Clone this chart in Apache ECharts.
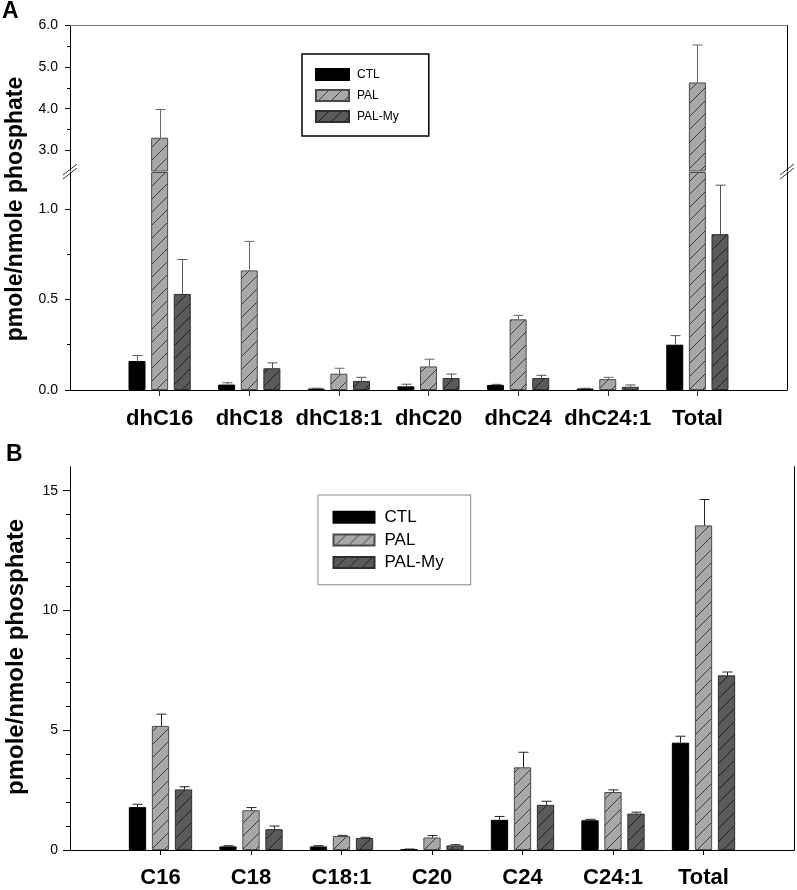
<!DOCTYPE html>
<html>
<head>
<meta charset="utf-8">
<script src="https://cdn.jsdelivr.net/npm/echarts@6/dist/echarts.min.js"></script>
<style>
html,body{margin:0;padding:0;background:#fff;}
#chart{width:797px;height:890px;}
</style>
</head>
<body>
<div id="chart"></div>
<script>
// ---------- DATA ----------
const catsA = ['dhC16', 'dhC18', 'dhC18:1', 'dhC20', 'dhC24', 'dhC24:1', 'Total'];
const ctlA = [0.16, 0.03, 0.008, 0.02, 0.028, 0.008, 0.25];
const ctlAErr = [0.03, 0.01, 0.002, 0.012, 0.003, 0.002, 0.05];
const palA = [3.3, 0.66, 0.09, 0.13, 0.39, 0.06, 4.63];
const palAErr = [0.68, 0.16, 0.03, 0.04, 0.022, 0.01, 0.9];
const palMyA = [0.53, 0.12, 0.05, 0.066, 0.066, 0.018, 0.86];
const palMyAErr = [0.19, 0.03, 0.02, 0.022, 0.015, 0.01, 0.27];

const catsB = ['C16', 'C18', 'C18:1', 'C20', 'C24', 'C24:1', 'Total'];
const ctlB = [1.79, 0.15, 0.15, 0.03, 1.26, 1.24, 4.48];
const ctlBErr = [0.12, 0.03, 0.03, 0.01, 0.14, 0.04, 0.27];
const palB = [5.18, 1.66, 0.58, 0.52, 3.45, 2.42, 13.55];
const palBErr = [0.49, 0.11, 0.03, 0.08, 0.63, 0.09, 1.08];
const palMyB = [2.53, 0.87, 0.5, 0.19, 1.885, 1.52, 7.29];
const palMyBErr = [0.11, 0.13, 0.03, 0.03, 0.15, 0.06, 0.14];

const seriesNames = ['CTL', 'PAL', 'PAL-My'];

const ticksAUpper = [3, 4, 5, 6];
const minorAUpper = [3.5, 4.5, 5.5];
const ticksALower = [0, 0.5, 1.0];
const minorALower = [0.25, 0.75];
const ticksB = [0, 5, 10, 15];
const minorB = [1, 2, 3, 4, 6, 7, 8, 9, 11, 12, 13, 14];

const yTitle = 'pmole/nmole phosphate';

// ---------- STYLE ----------
const FONT = 'Liberation Sans, Arial, Helvetica, sans-serif';
function hatch(bg, line, size) {
  const c = document.createElement('canvas');
  c.width = size; c.height = size;
  const ctx = c.getContext('2d');
  ctx.fillStyle = bg; ctx.fillRect(0, 0, size, size);
  ctx.strokeStyle = line; ctx.lineWidth = 1;
  ctx.beginPath();
  ctx.moveTo(-1, size + 1); ctx.lineTo(size + 1, -1);
  ctx.moveTo(-2, 2); ctx.lineTo(2, -2);
  ctx.moveTo(size - 2, size + 2); ctx.lineTo(size + 2, size - 2);
  ctx.stroke();
  return { image: c, repeat: 'repeat' };
}
const styles = [
  { color: '#000000', borderColor: '#000000', borderWidth: 1 },
  { color: hatch('#a8a8a8', '#3a3a3a', 13), borderColor: '#4a4a4a', borderWidth: 1 },
  { color: hatch('#5a5a5a', '#1e1e1e', 13), borderColor: '#2e2e2e', borderWidth: 1 }
];

const BW_A = 17, BW_B = 17.3, GAP = 0.33;
const pad = arr => ['-'].concat(arr).concat(['-']);
const padCats = arr => [''].concat(arr).concat(['']);

function bars(vals, k, xi, yi, bw) {
  return {
    type: 'bar', name: seriesNames[k], xAxisIndex: xi, yAxisIndex: yi,
    data: pad(vals), barWidth: bw, barGap: (GAP * 100) + '%',
    itemStyle: styles[k], clip: true, animation: false, z: 2
  };
}
function errs(vals, err, k, xi, yi, bw, color, capHalf) {
  const step = bw * (1 + GAP);
  const off = (k - 1) * step;
  return {
    type: 'custom', xAxisIndex: xi, yAxisIndex: yi, clip: true, animation: false, z: 3,
    data: vals.map((v, i) => [i + 1, v, err[i]]),
    renderItem: function (params, api) {
      const x = api.value(0), v = api.value(1), e = api.value(2);
      const p0 = api.coord([x, v]);
      const p1 = api.coord([x, v + e]);
      const cx = Math.round(p0[0] + off) + 0.5;
      const st = { stroke: color, lineWidth: 1 };
      return {
        type: 'group', children: [
          { type: 'line', shape: { x1: cx, y1: p0[1], x2: cx, y2: p1[1] }, style: st },
          { type: 'line', shape: { x1: cx - capHalf, y1: p1[1], x2: cx + capHalf, y2: p1[1] }, style: st }
        ]
      };
    }
  };
}

function mainY(grid, min, max, ticks, fmt, tickLen, position) {
  return {
    type: 'value', gridIndex: grid, min: min, max: max, position: position || 'left',
    axisLine: { show: true, lineStyle: { color: '#000', width: 1 } },
    axisTick: { show: true, customValues: ticks, length: tickLen, lineStyle: { color: '#000' } },
    axisLabel: { show: true, customValues: ticks, formatter: fmt, margin: 12, fontSize: 14, color: '#000', fontFamily: FONT },
    splitLine: { show: false }
  };
}
function minorY(grid, min, max, ticks, tickLen) {
  return {
    type: 'value', gridIndex: grid, min: min, max: max, position: 'left',
    axisLine: { show: false },
    axisTick: { show: true, customValues: ticks, length: tickLen, lineStyle: { color: '#000' } },
    axisLabel: { show: false }, splitLine: { show: false }
  };
}
function rightY(grid, min, max) {
  return {
    type: 'value', gridIndex: grid, min: min, max: max, position: 'right',
    axisLine: { show: true, lineStyle: { color: '#000', width: 1 } },
    axisTick: { show: false }, axisLabel: { show: false }, splitLine: { show: false }
  };
}

const n = catsA.length + 2;
const tickFilter = (i) => i > 0 && i < n - 1;

const option = {
  animation: false,
  backgroundColor: '#ffffff',
  grid: [
    { left: 70, right: 10, top: 25.5, height: 145.5 },
    { left: 70, right: 10, top: 172.5, height: 217.5 },
    { left: 70, right: 1.5, top: 466.7, height: 383.3 }
  ],
  xAxis: [
    { gridIndex: 0, type: 'category', data: padCats(catsA), boundaryGap: false, position: 'top',
      axisLine: { lineStyle: { color: '#777' } }, axisTick: { show: false }, axisLabel: { show: false } },
    { gridIndex: 1, type: 'category', data: padCats(catsA), boundaryGap: false, position: 'bottom',
      axisLine: { lineStyle: { color: '#000' } },
      axisTick: { show: true, interval: tickFilter, length: 6, lineStyle: { color: '#333' } },
      axisLabel: { interval: 0, margin: 18, fontSize: 22, fontWeight: 'bold', color: '#000', fontFamily: FONT } },
    { gridIndex: 2, type: 'category', data: padCats(catsB), boundaryGap: false, position: 'bottom',
      axisLine: { lineStyle: { color: '#000' } },
      axisTick: { show: true, interval: tickFilter, length: 5, lineStyle: { color: '#000' } },
      axisLabel: { interval: 0, margin: 17, fontSize: 22, fontWeight: 'bold', color: '#000', fontFamily: FONT } },
    { gridIndex: 2, type: 'category', data: padCats(catsB), boundaryGap: false, position: 'top',
      axisLine: { lineStyle: { color: '#000' } }, axisTick: { show: false }, axisLabel: { show: false } }
  ],
  yAxis: [
    mainY(0, 2.5, 6, ticksAUpper, v => Number(v).toFixed(1), 5),
    minorY(0, 2.5, 6, minorAUpper, 3),
    rightY(0, 2.5, 6),
    mainY(1, 0, 1.2, ticksALower, v => Number(v).toFixed(1), 5),
    minorY(1, 0, 1.2, minorALower, 3),
    rightY(1, 0, 1.2),
    mainY(2, 0, 16, ticksB, v => String(v), 7),
    minorY(2, 0, 16, minorB, 4),
    rightY(2, 0, 16)
  ],
  legend: [
    { data: seriesNames, orient: 'vertical', left: 302, top: 54, padding: [14, 30, 13, 13],
      itemWidth: 33, itemHeight: 11, itemGap: 8, icon: 'rect', selectedMode: false,
      borderColor: '#000', borderWidth: 1.5,
      textStyle: { fontSize: 12, color: '#000', fontFamily: FONT, padding: [0, 0, 0, 3] } },
    { data: seriesNames, orient: 'vertical', left: 318, top: 495, padding: [13.7, 27, 13.7, 14.5],
      itemWidth: 41, itemHeight: 11, itemGap: 5.7, icon: 'rect', selectedMode: false,
      borderColor: '#888', borderWidth: 1,
      textStyle: { fontSize: 17, color: '#000', fontFamily: FONT, padding: [0, 0, 0, 5] } }
  ],
  graphic: [
    { type: 'text', x: 2, y: 12, style: { text: 'A', font: 'bold 23px ' + FONT, fill: '#000', verticalAlign: 'middle' } },
    { type: 'text', x: 6, y: 455, style: { text: 'B', font: 'bold 23px ' + FONT, fill: '#000', verticalAlign: 'middle' } },
    { type: 'text', x: 16, y: 209, rotation: Math.PI / 2,
      style: { text: yTitle, font: 'bold 23px ' + FONT, fill: '#000', align: 'center', verticalAlign: 'middle' } },
    { type: 'text', x: 16, y: 657, rotation: Math.PI / 2,
      style: { text: yTitle, font: 'bold 24px ' + FONT, fill: '#000', align: 'center', verticalAlign: 'middle' } },
    // white break gap through the bars + axis break marks
    { type: 'group', z: 100, children: [
      { type: 'rect', shape: { x: 71, y: 170, width: 715, height: 3.5 }, style: { fill: '#fff' } },
      { type: 'rect', shape: { x: 66, y: 168, width: 8, height: 8 }, style: { fill: '#fff' } },
      { type: 'line', shape: { x1: 63, y1: 175, x2: 77, y2: 164 }, style: { stroke: '#333', lineWidth: 1 } },
      { type: 'line', shape: { x1: 63, y1: 179, x2: 77, y2: 168 }, style: { stroke: '#333', lineWidth: 1 } },
      { type: 'rect', shape: { x: 783, y: 168, width: 8, height: 8 }, style: { fill: '#fff' } },
      { type: 'line', shape: { x1: 780, y1: 175, x2: 794, y2: 164 }, style: { stroke: '#333', lineWidth: 1 } },
      { type: 'line', shape: { x1: 780, y1: 179, x2: 794, y2: 168 }, style: { stroke: '#333', lineWidth: 1 } }
    ] }
  ],
  series: [
    // Panel A upper segment
    bars(ctlA, 0, 0, 0, BW_A), bars(palA, 1, 0, 0, BW_A), bars(palMyA, 2, 0, 0, BW_A),
    errs(ctlA, ctlAErr, 0, 0, 0, BW_A, '#555', 5),
    errs(palA, palAErr, 1, 0, 0, BW_A, '#666', 5),
    errs(palMyA, palMyAErr, 2, 0, 0, BW_A, '#555', 5),
    // Panel A lower segment
    bars(ctlA, 0, 1, 3, BW_A), bars(palA, 1, 1, 3, BW_A), bars(palMyA, 2, 1, 3, BW_A),
    errs(ctlA, ctlAErr, 0, 1, 3, BW_A, '#555', 5),
    errs(palA, palAErr, 1, 1, 3, BW_A, '#666', 5),
    errs(palMyA, palMyAErr, 2, 1, 3, BW_A, '#555', 5),
    // Panel B
    bars(ctlB, 0, 2, 6, BW_B), bars(palB, 1, 2, 6, BW_B), bars(palMyB, 2, 2, 6, BW_B),
    errs(ctlB, ctlBErr, 0, 2, 6, BW_B, '#222', 5),
    errs(palB, palBErr, 1, 2, 6, BW_B, '#222', 5),
    errs(palMyB, palMyBErr, 2, 2, 6, BW_B, '#222', 5)
  ]
};

const chart = echarts.init(document.getElementById('chart'), null, { renderer: 'canvas' });
chart.setOption(option);
</script>
</body>
</html>
